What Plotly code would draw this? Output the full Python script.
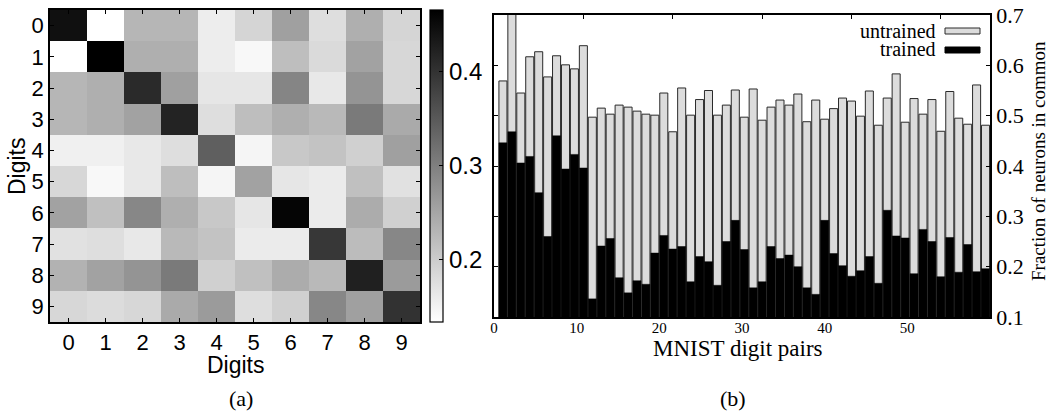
import plotly.graph_objects as go

W, H = 1048, 412

# ---------------- data ----------------
digits = list(range(10))
digit_labels = [str(d) for d in digits]

overlap = [
    [0.445, 0.133, 0.228, 0.228, 0.157, 0.188, 0.257, 0.176, 0.238, 0.188],
    [0.133, 0.466, 0.238, 0.238, 0.157, 0.142, 0.218, 0.181, 0.255, 0.185],
    [0.228, 0.238, 0.411, 0.257, 0.166, 0.166, 0.292, 0.163, 0.273, 0.185],
    [0.228, 0.238, 0.255, 0.420, 0.176, 0.218, 0.238, 0.224, 0.307, 0.244],
    [0.153, 0.153, 0.163, 0.176, 0.342, 0.146, 0.205, 0.211, 0.194, 0.257],
    [0.185, 0.142, 0.163, 0.218, 0.146, 0.255, 0.166, 0.159, 0.215, 0.172],
    [0.255, 0.215, 0.290, 0.238, 0.205, 0.166, 0.460, 0.159, 0.241, 0.194],
    [0.172, 0.176, 0.163, 0.224, 0.211, 0.159, 0.159, 0.394, 0.220, 0.290],
    [0.234, 0.255, 0.273, 0.307, 0.194, 0.215, 0.241, 0.224, 0.424, 0.264],
    [0.185, 0.179, 0.185, 0.244, 0.264, 0.176, 0.194, 0.290, 0.257, 0.401],
]
cbar_ticks = [0.2, 0.3, 0.4]

untrained = [0.569, 0.720, 0.545, 0.617, 0.627, 0.577, 0.619, 0.601, 0.593, 0.639,
             0.497, 0.515, 0.503, 0.521, 0.517, 0.509, 0.503, 0.501, 0.545, 0.468,
             0.555, 0.501, 0.532, 0.550, 0.501, 0.521, 0.551, 0.497, 0.553, 0.491,
             0.517, 0.531, 0.521, 0.543, 0.488, 0.531, 0.493, 0.514, 0.535, 0.529,
             0.499, 0.549, 0.481, 0.535, 0.583, 0.487, 0.534, 0.503, 0.532, 0.469,
             0.548, 0.495, 0.483, 0.561, 0.481]
trained = [0.446, 0.468, 0.406, 0.419, 0.347, 0.260, 0.460, 0.394, 0.423, 0.396,
           0.136, 0.241, 0.256, 0.178, 0.148, 0.172, 0.165, 0.227, 0.262, 0.235,
           0.240, 0.170, 0.220, 0.210, 0.163, 0.250, 0.292, 0.234, 0.158, 0.170,
           0.240, 0.216, 0.223, 0.200, 0.158, 0.145, 0.292, 0.226, 0.202, 0.181,
           0.192, 0.220, 0.167, 0.312, 0.261, 0.257, 0.186, 0.274, 0.250, 0.180,
           0.258, 0.189, 0.244, 0.190, 0.196]
pairs = list(range(1, len(untrained) + 1))
pair_ticks = [0, 10, 20, 30, 40, 50]
frac_ticks = [0.1, 0.2, 0.3, 0.4, 0.5, 0.6, 0.7]

# ---------------- helpers ----------------
def px(x):
    return x / W

def py(y):
    return 1 - y / H

SANS = "Liberation Sans"
SERIF = "Liberation Serif"

fig = go.Figure()

fig.add_trace(go.Heatmap(
    z=overlap, x=digits, y=digits,
    colorscale=[[0, "#ffffff"], [1, "#000000"]],
    zmin=0.133, zmax=0.466,
    xaxis="x", yaxis="y",
    hoverinfo="skip",
    colorbar=dict(
        x=px(430), xanchor="left", xpad=0,
        y=py(166), yanchor="middle", ypad=0,
        len=(322 - 10) / H, lenmode="fraction",
        thickness=13, thicknessmode="pixels",
        outlinewidth=1.2, outlinecolor="black",
        tickvals=cbar_ticks, ticktext=[f"{t:.1f}" for t in cbar_ticks],
        ticks="inside", ticklen=4, tickcolor="black",
        tickfont=dict(family=SANS, size=24, color="black"),
    ),
    showscale=True,
))

fig.add_trace(go.Bar(
    x=pairs, y=untrained, width=0.9, xaxis="x2", yaxis="y2",
    marker=dict(color="#dcdcdc", line=dict(color="#2a2a2a", width=1)),
    name="untrained", showlegend=False,
))
fig.add_trace(go.Bar(
    x=pairs, y=trained, width=0.9, xaxis="x2", yaxis="y2",
    marker=dict(color="#000000", line=dict(color="#000000", width=0.5)),
    name="trained", showlegend=False,
))
# invisible helper so the bottom label axis (x3) is drawn
fig.add_trace(go.Scatter(
    x=pair_ticks, y=[frac_ticks[0]] * len(pair_ticks), xaxis="x3", yaxis="y2",
    mode="markers", marker=dict(opacity=0, size=1), hoverinfo="skip",
    showlegend=False,
))

axis_common = dict(showgrid=False, zeroline=False, showline=True, automargin=False,
                   linecolor="black", linewidth=1.5, ticks="inside",
                   ticklen=4, tickcolor="black", mirror="ticks")

fig.update_layout(
    template="none",
    width=W, height=H,
    margin=dict(l=0, r=0, t=0, b=0, pad=0),
    paper_bgcolor="white", plot_bgcolor="white",
    barmode="overlay",
    showlegend=False,
    xaxis=dict(domain=[px(50), px(420)], range=[-0.5, 9.5], anchor="y",
               tickvals=digits, ticktext=digit_labels,
               tickfont=dict(family=SANS, size=22, color="black"),
               **axis_common),
    yaxis=dict(domain=[py(322), py(10)], range=[9.5, -0.5], anchor="x",
               tickvals=digits, ticktext=digit_labels,
               tickfont=dict(family=SANS, size=22, color="black"),
               **axis_common),
    xaxis2=dict(domain=[px(494), px(990)], range=[0, 55.5], anchor="y2",
                tickvals=[10, 20, 30, 40, 50], showticklabels=False,
                **axis_common),
    xaxis3=dict(domain=[px(494), px(990)], range=[0, 60], anchor="y2",
                overlaying="x2", side="bottom", showline=False, showgrid=False,
                zeroline=False, ticks="", automargin=False,
                tickvals=pair_ticks, ticktext=[str(t) for t in pair_ticks],
                tickfont=dict(family=SERIF, size=15, color="black")),
    yaxis2=dict(domain=[py(317), py(15)], range=[0.1, 0.7], anchor="x2", side="right",
                tickvals=frac_ticks, ticktext=[f"{t:.1f}" for t in frac_ticks],
                tickfont=dict(family=SERIF, size=22, color="black"),
                **axis_common),
)

def label(text, x, y, size, family, angle=0, xanchor="center"):
    fig.add_annotation(x=px(x), y=py(y), xref="paper", yref="paper", text=text,
                       showarrow=False, xanchor=xanchor, yanchor="middle",
                       textangle=angle,
                       font=dict(family=family, size=size, color="black"))

# axis titles
label("Digits", 236, 365, 23, SANS)
label("Digits", 17, 166, 23, SANS, angle=-90)
label("MNIST digit pairs", 738, 348, 23, SERIF)
label("Fraction of neurons in common", 1039, 161, 19, SERIF, angle=-90)

# legend drawn manually (text left of the swatch, as in the reference)
label("untrained", 938, 31, 20, SERIF, xanchor="right")
label("trained", 938, 49, 20, SERIF, xanchor="right")
fig.add_shape(type="rect", xref="paper", yref="paper",
              x0=px(945), x1=px(980), y0=py(34), y1=py(28),
              fillcolor="#dcdcdc", line=dict(color="#2a2a2a", width=1))
fig.add_shape(type="rect", xref="paper", yref="paper",
              x0=px(945), x1=px(980), y0=py(53), y1=py(47),
              fillcolor="#000000", line=dict(color="#000000", width=1))

# panel captions
label("(a)", 241, 398, 22, SERIF)
label("(b)", 733, 398, 22, SERIF)

fig.write_html("out.html", config={"displayModeBar": False},
               post_script="document.body.style.margin='0';")
